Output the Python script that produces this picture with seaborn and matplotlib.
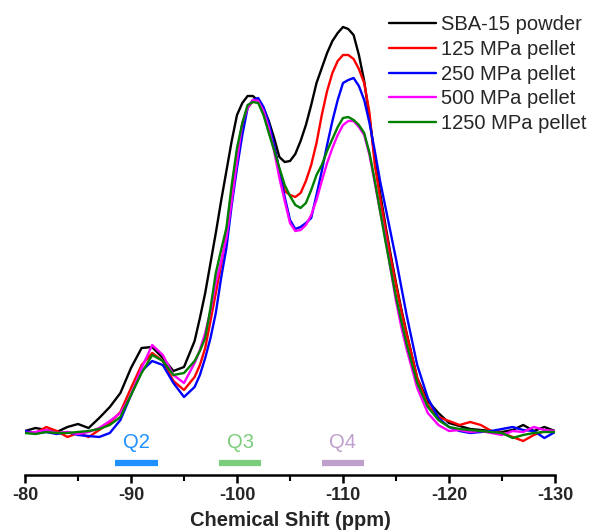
import numpy as np
import pandas as pd
import matplotlib
matplotlib.use("Agg")
import matplotlib.pyplot as plt
import seaborn as sns
from matplotlib.ticker import MultipleLocator

# chemical shift grid (ppm): 1 ppm steps on the baseline, 0.5 ppm steps across the main peaks
ppm = ([-80, -81, -82, -83, -84, -85, -86, -87, -88, -89, -90, -91, -92, -93, -94, -95]
       + [-96, -96.5, -97, -97.5, -98, -98.5, -99, -99.5, -100, -100.5, -101, -101.5,
          -102, -102.5, -103, -103.5, -104, -104.5, -105, -105.5, -106, -106.5, -107,
          -107.5, -108, -108.5, -109, -109.5, -110, -110.5, -111, -111.5, -112, -112.5,
          -113, -113.5, -114, -114.5, -115, -115.5, -116]
       + [-117, -118, -119, -120, -121, -122, -123, -124, -125, -126, -127, -128, -129, -130])

sba15 = ([2, 5, 3, 1, 6, 9, 5, 15, 26, 40, 65, 85, 86, 75, 62, 66]
         + [92, 115, 140, 170, 200, 232, 262, 292, 318, 330, 337, 337, 332, 325, 312, 295,
            276, 271, 272, 279, 292, 308, 328, 350, 365, 380, 392, 400, 406, 404, 398, 378,
            352, 315, 275, 240, 208, 178, 150, 124, 100]
         + [55, 32, 20, 10, 7, 4, 3, 2, 1, 3, 8, 2, 6, 2])
p125 = ([1, 0, 6, 2, -4, 0, -4, 3, 10, 21, 45, 68, 80, 72, 52, 43]
        + [56, 68, 85, 112, 140, 168, 198, 240, 280, 308, 325, 332, 334, 322, 302, 288,
           262, 242, 238, 236, 240, 252, 268, 290, 318, 342, 360, 372, 378, 378, 374, 364,
           350, 320, 268, 235, 205, 175, 148, 122, 99]
        + [55, 28, 16, 12, 8, 11, 8, 2, 0, -4, -8, -2, 2, 1])
p250 = ([2, 0, 1, -1, 1, -2, -3, -4, 0, 13, 38, 62, 72, 68, 50, 36]
        + [46, 58, 75, 95, 120, 155, 185, 228, 265, 298, 325, 333, 335, 326, 310, 288,
           262, 236, 213, 204, 206, 210, 215, 238, 262, 288, 312, 333, 350, 353, 355, 347,
           333, 310, 282, 252, 226, 200, 174, 146, 118]
        + [68, 35, 15, 6, 2, 0, 1, 2, 4, 6, 3, 2, -5, 1])
p500 = ([0, 1, 3, 0, 1, -1, 1, 5, 12, 20, 38, 65, 88, 78, 58, 50]
        + [70, 83, 100, 122, 150, 172, 195, 232, 272, 310, 325, 333, 332, 322, 305, 282,
           255, 232, 210, 202, 203, 208, 218, 233, 252, 270, 285, 298, 308, 312, 312, 306,
           298, 278, 250, 222, 195, 163, 132, 106, 84]
        + [45, 20, 8, 2, 3, 1, 2, 0, -2, 2, 1, 6, 3, 2])
p1250 = ([0, -1, 1, 0, 0, 1, 2, 4, 8, 16, 38, 60, 78, 72, 58, 60]
         + [72, 82, 95, 125, 160, 183, 205, 248, 285, 310, 328, 331, 330, 318, 300, 283,
            265, 248, 237, 228, 225, 230, 243, 258, 268, 282, 294, 306, 315, 316, 313, 308,
            300, 280, 252, 222, 192, 164, 136, 112, 89]
         + [50, 26, 13, 6, 4, 3, 2, 1, 0, -5, -2, 0, 1, 1])

series_names = ["SBA-15 powder", "125 MPa pellet", "250 MPa pellet",
                "500 MPa pellet", "1250 MPa pellet"]
series_values = [sba15, p125, p250, p500, p1250]
series_colors = ["#000000", "#FF0000", "#0000FF", "#FF00FF", "#008000"]

region_labels = ["Q2", "Q3", "Q4"]
region_start = [-88.5, -98.3, -108.0]
region_end = [-92.5, -102.3, -112.0]
region_colors = ["#1E90FF", "#7CCD7C", "#BF9FCC"]

xticks = [-80, -90, -100, -110, -120, -130]

frames = [pd.DataFrame({"ppm": ppm, "intensity": v, "sample": n})
          for n, v in zip(series_names, series_values)]
df = pd.concat(frames, ignore_index=True)

sns.set_theme(style="white")
plt.rcParams["font.family"] = ["Liberation Sans", "DejaVu Sans"]

fig = plt.figure(figsize=(5.92, 5.30), dpi=100)
ax = fig.add_axes([25 / 592, 55 / 530, 530 / 592, 475 / 530])

sns.lineplot(data=df, x="ppm", y="intensity", hue="sample",
             palette=dict(zip(series_names, series_colors)),
             hue_order=series_names, linewidth=1.7, ax=ax, legend=False,
             sort=False, estimator=None)

for lab, s, e, c in zip(region_labels, region_start, region_end, region_colors):
    ax.plot([s, e], [-30, -30], color=c, linewidth=4.5, solid_capstyle="butt")
    ax.text((s + e) / 2, -10, lab, color=c, ha="center", va="center", fontsize=14.5)

ax.set_xlim(-80, -130)
ax.set_ylim(-42, 433)
ax.set_xticks(xticks)
ax.set_xticklabels([str(t) for t in xticks], fontweight="bold", fontsize=13)
ax.xaxis.set_minor_locator(MultipleLocator(5))
ax.tick_params(axis="x", which="major", direction="out", length=6, width=1.8,
               bottom=True, pad=3, color="black")
ax.tick_params(axis="x", which="minor", direction="out", length=4, width=1.5,
               bottom=True, color="black")
ax.set_yticks([])
ax.set_ylabel("")
ax.set_xlabel("Chemical Shift (ppm)", fontweight="bold", fontsize=14.5, labelpad=5)
for side in ["top", "right", "left"]:
    ax.spines[side].set_visible(False)
ax.spines["bottom"].set_linewidth(1.8)
ax.spines["bottom"].set_color("black")

handles = [plt.Line2D([], [], color=c, linewidth=1.7) for c in series_colors]
leg = fig.legend(handles, series_names, loc="upper right",
                 bbox_to_anchor=(1.005, 0.987), frameon=False, fontsize=14.5,
                 handlelength=2.35, handletextpad=0.25, labelspacing=0.29,
                 borderaxespad=0.2, borderpad=0.2)

fig.savefig("out.png", dpi=100, facecolor="white")
